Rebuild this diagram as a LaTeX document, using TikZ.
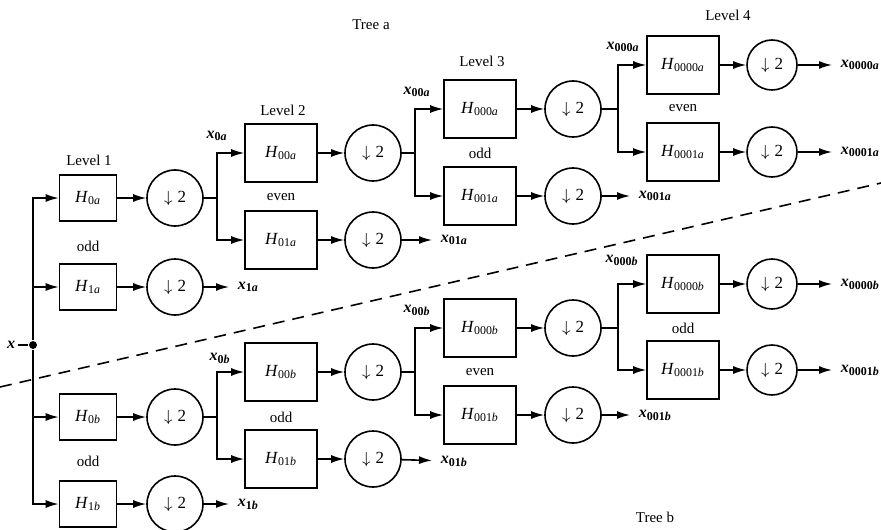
\documentclass[tikz,border=0pt]{standalone}
\usepackage{fontspec}
\setmainfont{Liberation Serif}
\usetikzlibrary{arrows.meta}

\newcommand{\hfilt}[2]{\textit{H}\textsubscript{#1\textit{#2}}}
\newcommand{\xsig}[2]{\textbf{\textit{x}\textsubscript{#1\textit{#2}}}}
\newcommand{\dtwo}{$\downarrow$\hspace{2.5pt}2}

\begin{document}
\begin{tikzpicture}[x=0.5pt, y=-0.5pt, >={Latex[length=6.5pt,width=4pt]}, line width=0.8pt,
    hbox/.style={draw, minimum width=36pt, minimum height=29pt, inner sep=1pt, font=\fontsize{8.5}{10}\selectfont},
    hboxone/.style={hbox, minimum width=28.5pt, minimum height=23pt},
    decim/.style={draw, circle, minimum size=28pt, inner sep=0pt, font=\fontsize{8.5}{10}\selectfont},
    decimfour/.style={decim, minimum size=25pt},
    levtext/.style={font=\fontsize{7.5}{9}\selectfont},
    sigtext/.style={font=\fontsize{8}{10}\selectfont, inner sep=1pt},
    outarrow/.style={->, shorten >=3pt}]
    \useasboundingbox (0,0) rectangle (881,529);

    % Input and separating line
    \node[sigtext] (xin) at (11,345) {\textbf{\textit{x}}};
    \node[circle, fill, inner sep=1.4pt] (dot) at (33,345) {};
    \draw (xin) -- (dot);
    \draw[dashed, dash pattern=on 6pt off 4pt] (0,387) -- (881,183);
    \node[levtext] at (371,25) {Tree a};
    \node[levtext] at (655,517) {Tree b};

    % --- Tree a ---
    \begin{scope}
        % Level 1
        \node[hboxone] (H0a) at (88,198) {\hfilt{0}{a}};
        \node[hboxone] (H1a) at (88,287) {\hfilt{1}{a}};
        \node[decim] (D0a) at (175,198) {\dtwo};
        \node[decim] (D1a) at (175,287) {\dtwo};
        \node[levtext] at (89,160) {Level 1};
        \node[levtext] at (88,246) {odd};
        \node[sigtext, anchor=west] (x1a) at (235,287) {\xsig{1}{a}};
        \draw[->] (dot) |- (H0a);
        \draw[->] (dot) |- (H1a);
        \draw[->] (H0a) -- (D0a);
        \draw[->] (H1a) -- (D1a);
        \draw[outarrow] (D1a) -- (x1a);

        % Level 2
        \coordinate (j2a) at (217,198);
        \node[hbox] (H00a) at (281,153) {\hfilt{00}{a}};
        \node[hbox] (H01a) at (281,240) {\hfilt{01}{a}};
        \node[decim] (D00a) at (373,153) {\dtwo};
        \node[decim] (D01a) at (373,240) {\dtwo};
        \node[levtext] at (283,110) {Level 2};
        \node[levtext] at (281,197) {even};
        \node[sigtext] at (217,136) {\xsig{0}{a}};
        \node[sigtext, anchor=west] (x01a) at (438,240) {\xsig{01}{a}};
        \draw (D0a) -- (j2a);
        \draw[->] (j2a) |- (H00a);
        \draw[->] (j2a) |- (H01a);
        \draw[->] (H00a) -- (D00a);
        \draw[->] (H01a) -- (D01a);
        \draw[outarrow] (D01a) -- (x01a);

        % Level 3
        \coordinate (j3a) at (415,153);
        \node[hbox] (H000a) at (480,109) {\hfilt{000}{a}};
        \node[hbox] (H001a) at (480,196) {\hfilt{001}{a}};
        \node[decim] (D000a) at (573,109) {\dtwo};
        \node[decim] (D001a) at (573,196) {\dtwo};
        \node[levtext] at (482,61) {Level 3};
        \node[levtext] at (480,153) {odd};
        \node[sigtext] at (417,92) {\xsig{00}{a}};
        \node[sigtext, anchor=west] (x001a) at (636,196) {\xsig{001}{a}};
        \draw (D00a) -- (j3a);
        \draw[->] (j3a) |- (H000a);
        \draw[->] (j3a) |- (H001a);
        \draw[->] (H000a) -- (D000a);
        \draw[->] (H001a) -- (D001a);
        \draw[outarrow] (D001a) -- (x001a);

        % Level 4
        \coordinate (j4a) at (618,109);
        \node[hbox] (H0000a) at (683,65) {\hfilt{0000}{a}};
        \node[hbox] (H0001a) at (683,152) {\hfilt{0001}{a}};
        \node[decimfour] (D0000a) at (772,65) {\dtwo};
        \node[decimfour] (D0001a) at (772,152) {\dtwo};
        \node[levtext] at (728,15) {Level 4};
        \node[levtext] at (683,108) {even};
        \node[sigtext] at (623,47) {\xsig{000}{a}};
        \node[sigtext, anchor=west] (x0000a) at (838,65) {\xsig{0000}{a}};
        \node[sigtext, anchor=west] (x0001a) at (838,152) {\xsig{0001}{a}};
        \draw (D000a) -- (j4a);
        \draw[->] (j4a) |- (H0000a);
        \draw[->] (j4a) |- (H0001a);
        \draw[->] (H0000a) -- (D0000a);
        \draw[->] (H0001a) -- (D0001a);
        \draw[outarrow] (D0000a) -- (x0000a);
        \draw[outarrow] (D0001a) -- (x0001a);
    \end{scope}

    % --- Tree b ---
    \begin{scope}[shift={(0,219)}]
        % Level 1
        \node[hboxone] (H0b) at (88,198) {\hfilt{0}{b}};
        \node[hboxone] (H1b) at (88,285) {\hfilt{1}{b}};
        \node[decim] (D0b) at (175,198) {\dtwo};
        \node[decim] (D1b) at (175,285) {\dtwo};
        \node[levtext] at (88,242) {odd};
        \node[sigtext, anchor=west] (x1b) at (235,285) {\xsig{1}{b}};
        \draw[->] (dot) |- (H0b);
        \draw[->] (dot) |- (H1b);
        \draw[->] (H0b) -- (D0b);
        \draw[->] (H1b) -- (D1b);
        \draw[outarrow] (D1b) -- (x1b);

        % Level 2
        \coordinate (j2b) at (217,198);
        \node[hbox] (H00b) at (281,153) {\hfilt{00}{b}};
        \node[hbox] (H01b) at (281,240) {\hfilt{01}{b}};
        \node[decim] (D00b) at (373,153) {\dtwo};
        \node[decim] (D01b) at (373,240) {\dtwo};
        \node[levtext] at (281,198) {odd};
        \node[sigtext] at (220,139) {\xsig{0}{b}};
        \node[sigtext, anchor=west] (x01b) at (438,242) {\xsig{01}{b}};
        \draw (D0b) -- (j2b);
        \draw[->] (j2b) |- (H00b);
        \draw[->] (j2b) |- (H01b);
        \draw[->] (H00b) -- (D00b);
        \draw[->] (H01b) -- (D01b);
        \draw[outarrow] (D01b) -- (x01b);

        % Level 3
        \coordinate (j3b) at (415,153);
        \node[hbox] (H000b) at (480,109) {\hfilt{000}{b}};
        \node[hbox] (H001b) at (480,196) {\hfilt{001}{b}};
        \node[decim] (D000b) at (573,109) {\dtwo};
        \node[decim] (D001b) at (573,196) {\dtwo};
        \node[levtext] at (480,153) {even};
        \node[sigtext] at (417,91) {\xsig{00}{b}};
        \node[sigtext, anchor=west] (x001b) at (636,196) {\xsig{001}{b}};
        \draw (D00b) -- (j3b);
        \draw[->] (j3b) |- (H000b);
        \draw[->] (j3b) |- (H001b);
        \draw[->] (H000b) -- (D000b);
        \draw[->] (H001b) -- (D001b);
        \draw[outarrow] (D001b) -- (x001b);

        % Level 4
        \coordinate (j4b) at (618,109);
        \node[hbox] (H0000b) at (683,65) {\hfilt{0000}{b}};
        \node[hbox] (H0001b) at (683,151) {\hfilt{0001}{b}};
        \node[decimfour] (D0000b) at (772,65) {\dtwo};
        \node[decimfour] (D0001b) at (772,151) {\dtwo};
        \node[levtext] at (683,109) {odd};
        \node[sigtext] at (622,41) {\xsig{000}{b}};
        \node[sigtext, anchor=west] (x0000b) at (838,65) {\xsig{0000}{b}};
        \node[sigtext, anchor=west] (x0001b) at (838,151) {\xsig{0001}{b}};
        \draw (D000b) -- (j4b);
        \draw[->] (j4b) |- (H0000b);
        \draw[->] (j4b) |- (H0001b);
        \draw[->] (H0000b) -- (D0000b);
        \draw[->] (H0001b) -- (D0001b);
        \draw[outarrow] (D0000b) -- (x0000b);
        \draw[outarrow] (D0001b) -- (x0001b);
    \end{scope}
\end{tikzpicture}
\end{document}
